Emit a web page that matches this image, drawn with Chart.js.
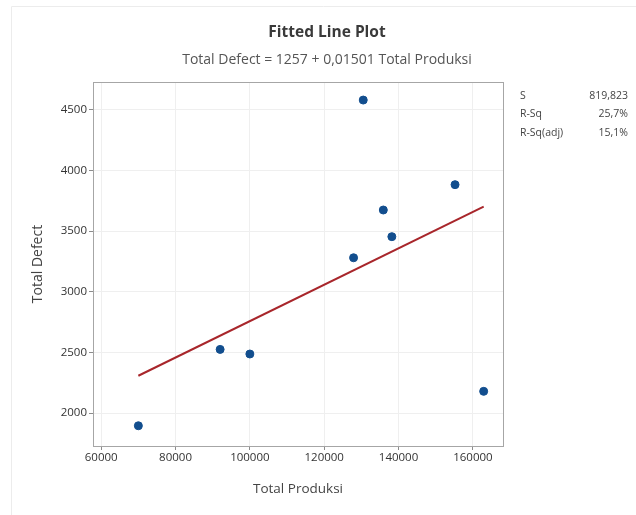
<!DOCTYPE html>
<html>
<head>
<meta charset="utf-8">
<script src="https://cdn.jsdelivr.net/npm/chart.js@4.4.1/dist/chart.umd.min.js"></script>
<style>
  html, body { margin: 0; padding: 0; background: #fff; }
  #wrap { width: 636px; height: 515px; position: relative; }
</style>
</head>
<body>
<div id="wrap"><canvas id="fitChart" width="636" height="515"></canvas></div>
<script>
// data
const totalProduksi = [70000, 92000, 100000, 127900, 130500, 135900, 138200, 155200, 162900];
const totalDefect = [1895, 2525, 2487, 3281, 4582, 3675, 3455, 3884, 2179];
const intercept = 1257;
const slope = 0.01501;
const xTicks = [60000, 80000, 100000, 120000, 140000, 160000];
const yTicks = [2000, 2500, 3000, 3500, 4000, 4500];
const statLabels = ['S', 'R-Sq', 'R-Sq(adj)'];
const statValues = ['819,823', '25,7%', '15,1%'];

const FONT = '"Open Sans", "Noto Sans", sans-serif';

const points = totalProduksi.map((x, i) => ({ x: x, y: totalDefect[i] }));
const xLo = Math.min(...totalProduksi);
const xHi = Math.max(...totalProduksi);
const fitLine = [xLo, xHi].map(x => ({ x: x, y: intercept + slope * x }));

// title, subtitle, frame and S / R-Sq table
const decorations = {
    id: 'decorations',
    afterDatasetsDraw(chart) {
        const c = chart.ctx;
        const a = chart.chartArea;
        c.save();
        c.strokeStyle = '#a6a6a6';
        c.lineWidth = 1;
        c.strokeRect(Math.round(a.left) + 0.5, Math.round(a.top) + 0.5,
            Math.round(a.right - a.left), Math.round(a.bottom - a.top));

        // faint outer frame
        c.strokeStyle = '#ececec';
        c.beginPath();
        c.moveTo(11.5, 515);
        c.lineTo(11.5, 6.5);
        c.lineTo(636, 6.5);
        c.stroke();

        c.textAlign = 'center';
        c.textBaseline = 'middle';
        c.fillStyle = '#3a3a3a';
        c.font = 'bold 15.5px ' + FONT;
        c.fillText('Fitted Line Plot', 327, 33);
        c.fillStyle = '#555';
        c.font = '14px ' + FONT;
        c.fillText('Total Defect = 1257 + 0,01501 Total Produksi', 327, 60);

        c.font = '10.5px ' + FONT;
        c.fillStyle = '#444';
        statLabels.forEach((lab, i) => {
            const y = 96 + i * 18.5;
            c.textAlign = 'left';
            c.fillText(lab, 520, y);
            c.textAlign = 'right';
            c.fillText(statValues[i], 628, y);
        });
        c.restore();
    }
};

const ctx = document.getElementById('fitChart').getContext('2d');
new Chart(ctx, {
    type: 'scatter',
    data: {
        datasets: [
            {
                type: 'line',
                label: 'Fit',
                data: fitLine,
                borderColor: '#a8262b',
                borderWidth: 2,
                pointRadius: 0,
                fill: false,
                order: 2
            },
            {
                label: 'Total Defect',
                data: points,
                backgroundColor: '#124e8e',
                borderColor: '#124e8e',
                pointRadius: 4,
                order: 1
            }
        ]
    },
    options: {
        responsive: false,
        animation: false,
        layout: { padding: { top: 82, right: 133, left: 0, bottom: 0 } },
        plugins: {
            legend: { display: false },
            tooltip: { enabled: false }
        },
        scales: {
            x: {
                type: 'linear',
                min: 57800,
                max: 168100,
                afterBuildTicks: scale => { scale.ticks = xTicks.map(v => ({ value: v })); },
                afterFit: scale => { scale.height = 69; },
                grid: { color: '#efefef', tickColor: '#8c8c8c', tickLength: 4, drawTicks: true },
                border: { display: false },
                ticks: {
                    color: '#333',
                    font: { family: FONT, size: 11.5 },
                    padding: 1,
                    maxRotation: 0,
                    callback: v => String(v)
                },
                title: {
                    display: true,
                    text: 'Total Produksi',
                    color: '#444',
                    font: { family: FONT, size: 13.5 },
                    padding: { top: 0, bottom: 18 }
                }
            },
            y: {
                type: 'linear',
                min: 1728,
                max: 4731,
                afterBuildTicks: scale => { scale.ticks = yTicks.map(v => ({ value: v })); },
                afterFit: scale => { scale.width = 93; },
                grid: { color: '#efefef', tickColor: '#8c8c8c', tickLength: 4, drawTicks: true },
                border: { display: false },
                ticks: {
                    color: '#333',
                    font: { family: FONT, size: 11.5 },
                    padding: 2,
                    callback: v => String(v)
                },
                title: {
                    display: true,
                    text: 'Total Defect',
                    color: '#444',
                    font: { family: FONT, size: 14 },
                    padding: { top: 30, bottom: 0 }
                }
            }
        }
    },
    plugins: [decorations]
});
</script>
</body>
</html>
